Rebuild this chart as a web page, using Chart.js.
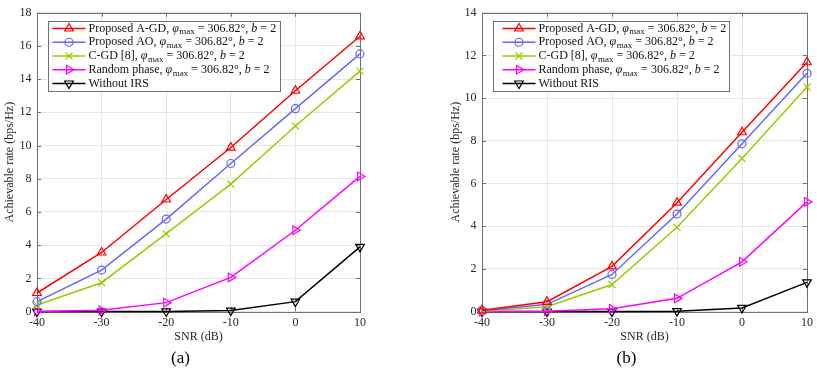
<!DOCTYPE html>
<html>
<head>
<meta charset="utf-8">
<script src="https://cdn.jsdelivr.net/npm/chart.js@4/dist/chart.umd.min.js"></script>
<style>
  html, body { margin: 0; padding: 0; background: #fff; }
  body { width: 817px; height: 380px; position: relative; overflow: hidden; }
  .wrap { position: absolute; top: 0; height: 380px; }
</style>
</head>
<body>
<div class="wrap" id="wa" style="left:0px;width:370px;"><canvas id="ca" width="370" height="380"></canvas></div>
<div class="wrap" id="wb" style="left:446px;width:371px;"><canvas id="cb" width="371" height="380"></canvas></div>
<script>
// ---------------- DATA ----------------
const snrDb = [-40, -30, -20, -10, 0, 10];
const yTicksA = [0, 2, 4, 6, 8, 10, 12, 14, 16, 18];
const yTicksB = [0, 2, 4, 6, 8, 10, 12, 14];

const seriesLabelsA = [
  "Proposed A-GD, φmax = 306.82°, b = 2",
  "Proposed AO, φmax = 306.82°, b = 2",
  "C-GD [8], φmax = 306.82°, b = 2",
  "Random phase, φmax = 306.82°, b = 2",
  "Without IRS"
];
const seriesLabelsB = [
  "Proposed A-GD, φmax = 306.82°, b = 2",
  "Proposed AO, φmax = 306.82°, b = 2",
  "C-GD [8], φmax = 306.82°, b = 2",
  "Random phase, φmax = 306.82°, b = 2",
  "Without RIS"
];

// panel (a)
const rateA_agd    = [1.12, 3.56, 6.75, 9.88, 13.3, 16.58];
const rateA_ao     = [0.6, 2.5, 5.57, 8.92, 12.22, 15.52];
const rateA_cgd    = [0.4, 1.74, 4.69, 7.68, 11.18, 14.48];
const rateA_random = [0.0, 0.08, 0.54, 2.06, 4.9, 8.14];
const rateA_noirs  = [0.0, 0.0, 0.01, 0.06, 0.6, 3.9];

// panel (b)
const rateB_agd    = [0.06, 0.46, 2.12, 5.1, 8.4, 11.68];
const rateB_ao     = [0.04, 0.34, 1.74, 4.57, 7.86, 11.16];
const rateB_cgd    = [0.02, 0.23, 1.27, 3.95, 7.17, 10.52];
const rateB_random = [0.0, 0.02, 0.13, 0.62, 2.33, 5.14];
const rateB_noris  = [0.0, 0.0, 0.0, 0.02, 0.17, 1.37];

// ---------------- STYLE ----------------
const FONT = "'Liberation Serif', 'Times New Roman', serif";
const FS = 12;
const styles = [
  { color: '#ff0000', pointStyle: 'triangle', rotation: 0,   radius: 5 },
  { color: '#6666ff', pointStyle: 'circle',   rotation: 0,   radius: 4 },
  { color: '#99cc00', pointStyle: 'crossRot', rotation: 0,   radius: 5 },
  { color: '#ff00ff', pointStyle: 'triangle', rotation: 90,  radius: 5 },
  { color: '#000000', pointStyle: 'triangle', rotation: 180, radius: 5 }
];

function makeDatasets(labels, seriesList) {
  return seriesList.map((vals, i) => ({
    label: labels[i],
    data: snrDb.map((x, k) => ({ x: x, y: vals[k] })),
    borderColor: styles[i].color,
    backgroundColor: 'rgba(0,0,0,0)',
    borderWidth: 1.5,
    pointStyle: styles[i].pointStyle,
    pointRotation: styles[i].rotation,
    pointRadius: styles[i].radius,
    pointBorderWidth: 1.2,
    pointBorderColor: styles[i].color,
    pointBackgroundColor: 'rgba(0,0,0,0)',
    tension: 0,
    clip: false
  }));
}

// rich text (italic phi with subscript "max", italic b)
function richParts(label) {
  return label.split(/(φmax|\bb(?= =))/).filter(s => s.length);
}
function drawRich(ctx, label, x, y, size, measureOnly) {
  const parts = richParts(label);
  let cx = x;
  const normal = size + 'px ' + FONT;
  const ital = 'italic ' + size + 'px ' + FONT;
  const sub = Math.round(size * 0.72) + 'px ' + FONT;
  ctx.textBaseline = 'middle';
  ctx.textAlign = 'left';
  for (const p of parts) {
    if (p === 'φmax') {
      ctx.font = ital;
      if (!measureOnly) ctx.fillText('φ', cx, y);
      cx += ctx.measureText('φ').width + 0.5;
      ctx.font = sub;
      if (!measureOnly) ctx.fillText('max', cx, y + size * 0.3);
      cx += ctx.measureText('max').width;
    } else if (p === 'b') {
      ctx.font = ital;
      if (!measureOnly) ctx.fillText('b', cx, y);
      cx += ctx.measureText('b').width;
    } else {
      ctx.font = normal;
      if (!measureOnly) ctx.fillText(p, cx, y);
      cx += ctx.measureText(p).width;
    }
  }
  return cx - x;
}

const framePlugin = {
  id: 'frame',
  beforeDatasetsDraw(chart) {
    const { ctx, chartArea: a, scales: { x, y } } = chart;
    ctx.save();
    ctx.strokeStyle = '#707070';
    ctx.lineWidth = 1;
    const L = 4;
    ctx.beginPath();
    x.ticks.forEach(t => {
      const px = Math.round(x.getPixelForValue(t.value)) + 0.5;
      ctx.moveTo(px, a.bottom); ctx.lineTo(px, a.bottom - L);
      ctx.moveTo(px, a.top); ctx.lineTo(px, a.top + L);
    });
    y.ticks.forEach(t => {
      const py = Math.round(y.getPixelForValue(t.value)) + 0.5;
      ctx.moveTo(a.left, py); ctx.lineTo(a.left + L, py);
      ctx.moveTo(a.right, py); ctx.lineTo(a.right - L, py);
    });
    ctx.stroke();
    ctx.strokeRect(Math.round(a.left) + 0.5, Math.round(a.top) + 0.5,
                   Math.round(a.right - a.left), Math.round(a.bottom - a.top));
    ctx.restore();
  }
};

const legendPlugin = {
  id: 'richLegend',
  afterDatasetsDraw(chart, args, opts) {
    const { ctx, chartArea: a } = chart;
    const ds = chart.data.datasets;
    const size = opts.fontSize || 11;
    ctx.save();
    let maxW = 0;
    ds.forEach(d => { maxW = Math.max(maxW, drawRich(ctx, d.label, 0, 0, size, true)); });
    const bx = Math.round(a.left + opts.dx) + 0.5;
    const by = Math.round(a.top + opts.dy) + 0.5;
    const lineStart = opts.linePad;
    const lineLen = 33;
    const textStart = lineStart + lineLen + 3;
    const bw = Math.round(textStart + maxW + opts.rightPad);
    const rowH = 13.75;
    const bh = 70;
    ctx.fillStyle = '#ffffff';
    ctx.fillRect(bx, by, bw, bh);
    ctx.strokeStyle = '#707070';
    ctx.lineWidth = 1;
    ctx.strokeRect(bx, by, bw, bh);
    ds.forEach((d, i) => {
      const cy = by + 7 + rowH * i;
      ctx.strokeStyle = d.borderColor;
      ctx.lineWidth = 1.5;
      ctx.beginPath();
      ctx.moveTo(bx + lineStart, cy);
      ctx.lineTo(bx + lineStart + lineLen, cy);
      ctx.stroke();
      ctx.fillStyle = 'rgba(0,0,0,0)';
      ctx.lineWidth = 1.2;
      Chart.helpers.drawPoint(ctx, {
        pointStyle: d.pointStyle, radius: d.pointRadius,
        rotation: d.pointRotation, borderWidth: 1.2
      }, bx + lineStart + lineLen / 2, cy);
      ctx.fillStyle = '#111';
      drawRich(ctx, d.label, bx + textStart, cy, size, false);
    });
    ctx.restore();
  }
};

function makeChart(canvasId, datasets, yMax, panelTitle, yWidth, pad, legendOpts) {
  return new Chart(document.getElementById(canvasId), {
    type: 'line',
    data: { datasets: datasets },
    plugins: [framePlugin, legendPlugin],
    options: {
      responsive: false,
      animation: false,
      devicePixelRatio: 1,
      layout: { padding: pad },
      scales: {
        x: {
          type: 'linear', min: -40, max: 10,
          border: { display: false },
          grid: { color: '#e6e6e6', lineWidth: 1, drawTicks: false },
          ticks: { stepSize: 10, padding: 4, color: '#262626', font: { family: FONT, size: FS }, maxRotation: 0 },
          title: { display: true, text: 'SNR (dB)', color: '#262626', font: { family: FONT, size: FS }, padding: { top: 0, bottom: 1.5 } },
          afterFit: s => { s.height = 34; }
        },
        y: {
          min: 0, max: yMax,
          border: { display: false },
          grid: { color: '#e6e6e6', lineWidth: 1, drawTicks: false },
          ticks: { stepSize: 2, padding: 5.5, color: '#262626', font: { family: FONT, size: FS } },
          title: { display: true, text: 'Achievable rate (bps/Hz)', color: '#262626', font: { family: FONT, size: FS }, padding: { top: 3, bottom: 0 } },
          afterFit: s => { s.width = yWidth; }
        }
      },
      plugins: {
        legend: { display: false },
        tooltip: { enabled: false },
        title: { display: true, position: 'bottom', text: panelTitle, color: '#000', font: { family: FONT, size: 17, weight: 'normal' }, padding: { top: 3, bottom: 4 } },
        richLegend: legendOpts
      }
    }
  });
}

makeChart('ca',
  makeDatasets(seriesLabelsA, [rateA_agd, rateA_ao, rateA_cgd, rateA_random, rateA_noirs]),
  yTicksA[yTicksA.length - 1], '(a)', 37,
  { left: 0, right: 9, top: 11, bottom: 7 },
  { dx: 11, dy: 8, linePad: 4, rightPad: 4, fontSize: FS });

makeChart('cb',
  makeDatasets(seriesLabelsB, [rateB_agd, rateB_ao, rateB_cgd, rateB_random, rateB_noris]),
  yTicksB[yTicksB.length - 1], '(b)', 36,
  { left: 0, right: 10, top: 11, bottom: 7 },
  { dx: 10.5, dy: 8, linePad: 9, rightPad: 3, fontSize: FS });
</script>
</body>
</html>
